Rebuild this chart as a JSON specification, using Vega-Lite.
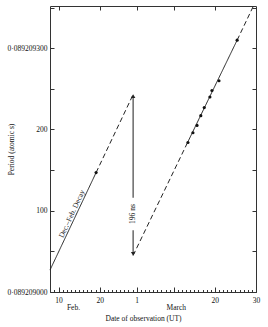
{
  "$schema": "https://vega.github.io/schema/vega-lite/v6.json",
  "width": 206,
  "height": 286,
  "autosize": {"type": "none"},
  "padding": {"left": 50, "top": 6, "right": 12, "bottom": 35},
  "background": "white",
  "config": {
    "font": "Liberation Serif",
    "view": {"stroke": "#333", "strokeWidth": 1},
    "axis": {
      "labelFont": "Liberation Serif",
      "titleFont": "Liberation Serif",
      "labelFontSize": 7.5,
      "titleFontSize": 7.5,
      "titleFontWeight": "normal",
      "labelColor": "#111",
      "titleColor": "#111",
      "tickColor": "#333",
      "tickWidth": 1,
      "domain": false,
      "grid": false
    }
  },
  "datasets": {
    "lines": [
      {"segment": "A1", "kind": "fit", "date": "1969-02-07T22:00:00Z", "p": 27},
      {"segment": "A1", "kind": "fit", "date": "1969-02-19T03:00:00Z", "p": 147},
      {"segment": "A2", "kind": "extrapolated", "date": "1969-02-19T03:00:00Z", "p": 147},
      {"segment": "A2", "kind": "extrapolated", "date": "1969-02-28T03:00:00Z", "p": 243},
      {"segment": "B1", "kind": "extrapolated", "date": "1969-02-28T03:00:00Z", "p": 45},
      {"segment": "B1", "kind": "extrapolated", "date": "1969-03-13T11:00:00Z", "p": 185},
      {"segment": "B2", "kind": "fit", "date": "1969-03-13T11:00:00Z", "p": 185},
      {"segment": "B2", "kind": "fit", "date": "1969-03-25T10:00:00Z", "p": 310},
      {"segment": "B3", "kind": "extrapolated", "date": "1969-03-25T10:00:00Z", "p": 310},
      {"segment": "B3", "kind": "extrapolated", "date": "1969-03-29T09:00:00Z", "p": 352}
    ],
    "obs": [
      {"date": "1969-02-19T03:00:00Z", "p": 147},
      {"date": "1969-03-13T11:00:00Z", "p": 184},
      {"date": "1969-03-14T16:00:00Z", "p": 196},
      {"date": "1969-03-15T16:00:00Z", "p": 205},
      {"date": "1969-03-16T14:00:00Z", "p": 217},
      {"date": "1969-03-17T10:00:00Z", "p": 227},
      {"date": "1969-03-18T19:00:00Z", "p": 240},
      {"date": "1969-03-19T07:00:00Z", "p": 248},
      {"date": "1969-03-21T00:00:00Z", "p": 260},
      {"date": "1969-03-25T10:00:00Z", "p": 310}
    ],
    "glitch": [
      {"date": "1969-02-28T03:00:00Z", "hi": 241, "lo": 116},
      {"date": "1969-02-28T03:00:00Z", "hi": 76, "lo": 47}
    ],
    "heads": [
      {"date": "1969-02-28T03:00:00Z", "p": 241, "end": "before"},
      {"date": "1969-02-28T03:00:00Z", "p": 47, "end": "after"}
    ],
    "notes": [
      {"note": "196 ns", "date": "1969-02-28T03:00:00Z", "p": 96},
      {"note": "Dec.–Feb. Decay", "date": "1969-02-13T07:00:00Z", "p": 96}
    ]
  },
  "layer": [
    {
      "data": {"name": "lines"},
      "mark": {"type": "line", "color": "#222", "strokeWidth": 1},
      "encoding": {
        "x": {
          "field": "date", "type": "temporal",
          "scale": {"type": "utc", "nice": false, "domain": [{"year": 1969, "month": 2, "date": 7, "hours": 22, "utc": true}, {"year": 1969, "month": 3, "date": 30, "utc": true}]},
          "axis": {
            "orient": "bottom",
            "values": [
              {"year": 1969, "month": 2, "date": 10, "utc": true},
              {"year": 1969, "month": 2, "date": 20, "utc": true},
              {"year": 1969, "month": 3, "date": 1, "utc": true},
              {"year": 1969, "month": 3, "date": 10, "utc": true},
              {"year": 1969, "month": 3, "date": 20, "utc": true},
              {"year": 1969, "month": 3, "date": 30, "utc": true}
            ],
            "labelExpr": "utcFormat(datum.value, '%m%d') == '0310' ? '' : utcFormat(datum.value, '%-d')",
            "tickSize": -5,
            "labelPadding": 9,
            "labelFlush": false,
            "labelOverlap": false,
            "title": null
          }
        },
        "y": {
          "field": "p", "type": "quantitative",
          "scale": {"domain": [0, 352], "nice": false, "zero": false},
          "axis": {
            "orient": "left",
            "values": [0, 50, 100, 150, 200, 250, 300, 350],
            "labelExpr": "datum.value == 0 ? '0·089209000' : datum.value == 300 ? '0·089209300' : (datum.value == 100 || datum.value == 200) ? datum.label : ''",
            "tickSize": -4,
            "labelPadding": 7,
            "labelOverlap": false,
            "labelFlush": false,
            "title": "Period (atomic s)",
            "titleX": -39,
            "titleBaseline": "middle"
          }
        },
        "detail": {"field": "segment"},
        "strokeDash": {
          "field": "kind", "type": "nominal",
          "scale": {"domain": ["fit", "extrapolated"], "range": [[1, 0], [5, 3]]},
          "legend": null
        }
      }
    },
    {
      "data": {"name": "obs"},
      "mark": {"type": "point", "filled": true, "size": 10, "color": "#111", "opacity": 1},
      "encoding": {
        "x": {
          "field": "date", "type": "temporal",
          "scale": {"type": "utc", "nice": false, "domain": [{"year": 1969, "month": 2, "date": 7, "hours": 22, "utc": true}, {"year": 1969, "month": 3, "date": 30, "utc": true}]},
          "axis": {
            "orient": "bottom",
            "tickCount": 50,
            "labels": false,
            "tickSize": -2.5,
            "title": null
          }
        },
        "y": {
          "field": "p", "type": "quantitative",
          "scale": {"domain": [0, 352], "nice": false, "zero": false},
          "axis": {
            "orient": "right",
            "values": [50, 100, 150, 200, 250, 300, 350],
            "labels": false,
            "tickSize": -4,
            "title": null
          }
        }
      }
    },
    {
      "data": {"name": "glitch"},
      "mark": {"type": "rule", "color": "#444", "strokeWidth": 1.2},
      "encoding": {
        "x": {
          "field": "date", "type": "temporal",
          "scale": {"type": "utc", "nice": false, "domain": [{"year": 1969, "month": 2, "date": 7, "hours": 22, "utc": true}, {"year": 1969, "month": 3, "date": 30, "utc": true}]},
          "axis": {
            "orient": "bottom",
            "values": [
              {"year": 1969, "month": 2, "date": 13, "hours": 12, "utc": true},
              {"year": 1969, "month": 3, "date": 10, "hours": 12, "utc": true}
            ],
            "labelExpr": "utcFormat(datum.value, '%m') == '02' ? 'Feb.' : 'March'",
            "ticks": false,
            "labelPadding": 11.5,
            "labelFlush": false,
            "title": "Date of observation (UT)",
            "titleX": 93,
            "titleY": 22
          }
        },
        "y": {"field": "hi", "type": "quantitative", "scale": {"domain": [0, 352], "nice": false, "zero": false}, "axis": null},
        "y2": {"field": "lo"}
      }
    },
    {
      "data": {"name": "heads"},
      "mark": {"type": "point", "filled": true, "size": 20, "color": "#222", "opacity": 1},
      "encoding": {
        "x": {
          "field": "date", "type": "temporal",
          "scale": {"type": "utc", "nice": false, "domain": [{"year": 1969, "month": 2, "date": 7, "hours": 22, "utc": true}, {"year": 1969, "month": 3, "date": 30, "utc": true}]},
          "axis": {
            "orient": "top",
            "values": [
              {"year": 1969, "month": 2, "date": 10, "utc": true},
              {"year": 1969, "month": 2, "date": 20, "utc": true},
              {"year": 1969, "month": 3, "date": 1, "utc": true},
              {"year": 1969, "month": 3, "date": 10, "utc": true},
              {"year": 1969, "month": 3, "date": 20, "utc": true}
            ],
            "labels": false,
            "tickSize": -4,
            "title": null
          }
        },
        "y": {"field": "p", "type": "quantitative", "scale": {"domain": [0, 352], "nice": false, "zero": false}, "axis": null},
        "shape": {
          "field": "end", "type": "nominal",
          "scale": {"domain": ["before", "after"], "range": ["triangle-up", "triangle-down"]},
          "legend": null
        }
      }
    },
    {
      "data": {"name": "notes"},
      "transform": [{"filter": "datum.note == '196 ns'"}],
      "mark": {"type": "text", "angle": 270, "fontSize": 7.5, "font": "Liberation Serif", "color": "#111", "align": "center", "baseline": "middle"},
      "encoding": {
        "x": {"field": "date", "type": "temporal", "scale": {"type": "utc", "nice": false, "domain": [{"year": 1969, "month": 2, "date": 7, "hours": 22, "utc": true}, {"year": 1969, "month": 3, "date": 30, "utc": true}]}, "axis": null},
        "y": {"field": "p", "type": "quantitative", "scale": {"domain": [0, 352], "nice": false, "zero": false}, "axis": null},
        "text": {"field": "note"}
      }
    },
    {
      "data": {"name": "notes"},
      "transform": [{"filter": "datum.note != '196 ns'"}],
      "mark": {"type": "text", "angle": 295, "fontSize": 7.5, "font": "Liberation Serif", "color": "#111", "align": "center", "baseline": "middle"},
      "encoding": {
        "x": {"field": "date", "type": "temporal", "scale": {"type": "utc", "nice": false, "domain": [{"year": 1969, "month": 2, "date": 7, "hours": 22, "utc": true}, {"year": 1969, "month": 3, "date": 30, "utc": true}]}, "axis": null},
        "y": {"field": "p", "type": "quantitative", "scale": {"domain": [0, 352], "nice": false, "zero": false}, "axis": null},
        "text": {"field": "note"}
      }
    }
  ],
  "resolve": {"axis": {"x": "independent", "y": "independent"}}
}
